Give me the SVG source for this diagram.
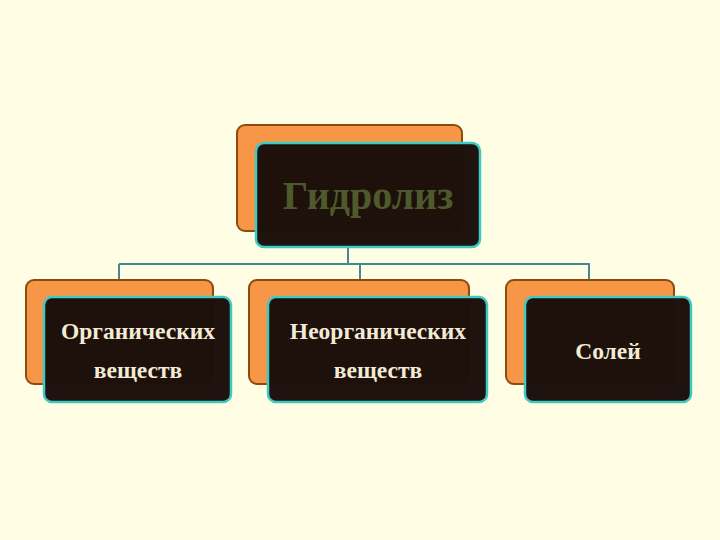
<svg xmlns="http://www.w3.org/2000/svg" width="720" height="540" viewBox="0 0 720 540">
<style>
.back{fill:#F79646;stroke:#8B4A10;stroke-width:2}
.front{fill:#1A0F0B;stroke:#3FC9C4;stroke-width:2.5;fill-opacity:0.985}
.lbl{font-family:"Liberation Serif","Times New Roman",serif;font-weight:bold;font-size:23.5px;fill:#F3EBD6;text-anchor:middle}
.ttl{font-family:"Liberation Serif","Times New Roman",serif;font-weight:bold;font-size:40px;fill:#4E5A2C;text-anchor:middle}
.conn{fill:none;stroke:#3F8C8C;stroke-width:2}
</style>
<rect width="720" height="540" fill="#FFFEE4"/>
<g id="connectors">
<path class="conn" d="M348 247 V264 M119 264 H590 M119 264 V280 M360 264 V280 M589 264 V280"/>
</g>
<g id="node-hydrolysis">
<rect class="back" x="237" y="125" width="225" height="106" rx="8"/>
<rect class="front" x="256" y="143" width="224" height="104" rx="8"/>
<text class="ttl" x="368" y="209">Гидролиз</text>
</g>
<g id="node-organic">
<rect class="back" x="26" y="280" width="187" height="104" rx="8"/>
<rect class="front" x="44" y="297" width="187" height="105" rx="8"/>
<text class="lbl" x="138" y="339">Органических</text>
<text class="lbl" x="138" y="378">веществ</text>
</g>
<g id="node-inorganic">
<rect class="back" x="249" y="280" width="220" height="104" rx="8"/>
<rect class="front" x="268" y="297" width="219" height="105" rx="8"/>
<text class="lbl" x="378" y="339">Неорганических</text>
<text class="lbl" x="378" y="378">веществ</text>
</g>
<g id="node-salts">
<rect class="back" x="506" y="280" width="168" height="104" rx="8"/>
<rect class="front" x="525" y="297" width="166" height="105" rx="8"/>
<text class="lbl" x="608" y="359">Солей</text>
</g>
</svg>
